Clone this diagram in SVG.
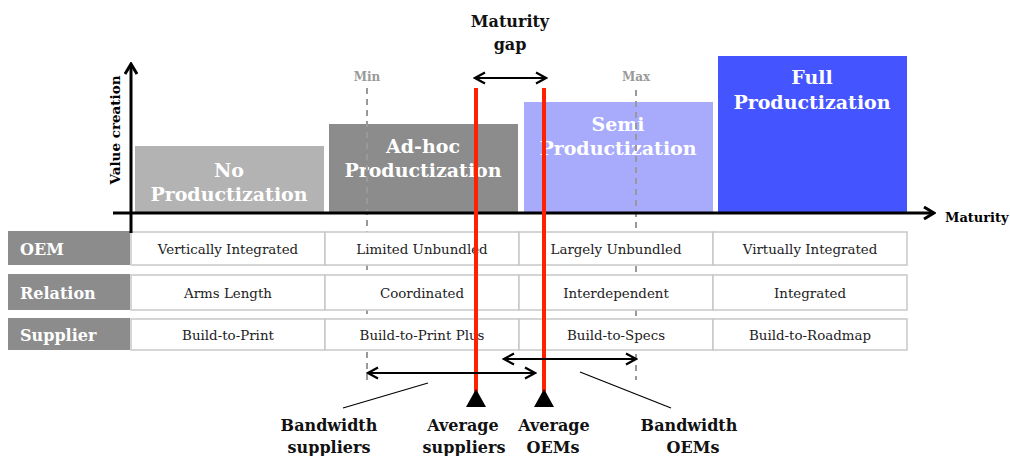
<svg xmlns="http://www.w3.org/2000/svg" width="1010" height="456" viewBox="0 0 1010 456">
  <defs>
    <marker id="chev" viewBox="0 0 14 14" refX="12" refY="7" markerWidth="14" markerHeight="14" markerUnits="userSpaceOnUse" orient="auto-start-reverse">
      <path d="M2,1.5 L12,7 L2,12.5" fill="none" stroke="#000" stroke-width="2.2"/>
    </marker>
    <marker id="chevBig" viewBox="0 0 14 14" refX="12" refY="7" markerWidth="14" markerHeight="14" markerUnits="userSpaceOnUse" orient="auto-start-reverse">
      <path d="M2,1 L12,7 L2,13" fill="none" stroke="#000" stroke-width="3"/>
    </marker>
  </defs>
  <style>
    .lbl { font-family: "DejaVu Serif", "Liberation Serif", serif; font-weight: bold; }
    .boxtxt { font-family: "DejaVu Serif", "Liberation Serif", serif; font-weight: bold; font-size: 19px; fill: #fff; text-anchor: middle; }
    .cell { fill: #fff; stroke: #c8c8c8; stroke-width: 1.5; }
    .celltxt { font-family: "DejaVu Serif", "Liberation Serif", serif; font-size: 13.4px; fill: #222; text-anchor: middle; }
    .hdr { fill: #8c8c8c; }
    .hdrtxt { font-family: "DejaVu Serif", "Liberation Serif", serif; font-weight: bold; font-size: 16px; fill: #fff; }
    .dash { stroke: #999; stroke-width: 2; stroke-dasharray: 6 5; fill: none; }
    .red { stroke: #ff2200; stroke-width: 4; }
    .arr { stroke: #000; stroke-width: 2; fill: none; }
    .bottxt { font-family: "DejaVu Serif", "Liberation Serif", serif; font-weight: bold; font-size: 16px; fill: #111; text-anchor: middle; }
  </style>

  <!-- maturity level boxes -->
  <g id="no-productization">
    <rect x="135" y="146" width="189" height="67" fill="#b3b3b3"/>
    <text class="boxtxt" x="229" y="177">No</text>
    <text class="boxtxt" x="229" y="201">Productization</text>
  </g>
  <g id="adhoc-productization">
    <rect x="329" y="124" width="189" height="89" fill="#8c8c8c"/>
    <text class="boxtxt" x="423" y="153">Ad-hoc</text>
    <text class="boxtxt" x="423" y="177">Productization</text>
  </g>
  <g id="semi-productization">
    <rect x="524" y="102" width="189" height="111" fill="#a8aafc"/>
    <text class="boxtxt" x="618" y="131">Semi</text>
    <text class="boxtxt" x="618" y="155">Productization</text>
  </g>
  <g id="full-productization">
    <rect x="718" y="56" width="189" height="157" fill="#4455ff"/>
    <text class="boxtxt" x="812" y="84">Full</text>
    <text class="boxtxt" x="812" y="109">Productization</text>
  </g>

  <!-- min / max markers -->
  <g id="min-marker">
    <text class="lbl" x="367" y="81" font-size="12" fill="#999" text-anchor="middle">Min</text>
    <line class="dash" x1="367" y1="88" x2="367" y2="380"/>
  </g>
  <g id="max-marker">
    <text class="lbl" x="636" y="81" font-size="12" fill="#999" text-anchor="middle">Max</text>
    <line class="dash" x1="636" y1="90" x2="636" y2="380"/>
  </g>

  <!-- characteristics table -->
  <g id="row-oem">
    <rect class="hdr" x="8" y="231" width="122" height="34"/>
    <text class="hdrtxt" x="20" y="255">OEM</text>
    <rect class="cell" x="131" y="232" width="194" height="33"/>
    <rect class="cell" x="325" y="232" width="194" height="33"/>
    <rect class="cell" x="519" y="232" width="194" height="33"/>
    <rect class="cell" x="713" y="232" width="194" height="33"/>
    <text class="celltxt" x="228" y="254">Vertically Integrated</text>
    <text class="celltxt" x="422" y="254">Limited Unbundled</text>
    <text class="celltxt" x="616" y="254">Largely Unbundled</text>
    <text class="celltxt" x="810" y="254">Virtually Integrated</text>
  </g>
  <g id="row-relation">
    <rect class="hdr" x="8" y="274" width="122" height="36"/>
    <text class="hdrtxt" x="20" y="299">Relation</text>
    <rect class="cell" x="131" y="275" width="194" height="35"/>
    <rect class="cell" x="325" y="275" width="194" height="35"/>
    <rect class="cell" x="519" y="275" width="194" height="35"/>
    <rect class="cell" x="713" y="275" width="194" height="35"/>
    <text class="celltxt" x="228" y="298">Arms Length</text>
    <text class="celltxt" x="422" y="298">Coordinated</text>
    <text class="celltxt" x="616" y="298">Interdependent</text>
    <text class="celltxt" x="810" y="298">Integrated</text>
  </g>
  <g id="row-supplier">
    <rect class="hdr" x="8" y="318" width="122" height="32"/>
    <text class="hdrtxt" x="20" y="341">Supplier</text>
    <rect class="cell" x="131" y="319" width="194" height="31"/>
    <rect class="cell" x="325" y="319" width="194" height="31"/>
    <rect class="cell" x="519" y="319" width="194" height="31"/>
    <rect class="cell" x="713" y="319" width="194" height="31"/>
    <text class="celltxt" x="228" y="340">Build-to-Print</text>
    <text class="celltxt" x="422" y="340">Build-to-Print Plus</text>
    <text class="celltxt" x="616" y="340">Build-to-Specs</text>
    <text class="celltxt" x="810" y="340">Build-to-Roadmap</text>
  </g>

  <!-- axes -->
  <g id="axes">
    <line x1="131" y1="233" x2="131" y2="64" stroke="#000" stroke-width="3" marker-end="url(#chevBig)"/>
    <line x1="113" y1="213" x2="934" y2="213" stroke="#000" stroke-width="3" marker-end="url(#chevBig)"/>
    <text class="lbl" x="0" y="0" font-size="13.5" fill="#000" text-anchor="middle" transform="translate(120 130) rotate(-90)">Value creation</text>
    <text class="lbl" x="945" y="222" font-size="13" fill="#000">Maturity</text>
  </g>

  <!-- averages -->
  <g id="average-suppliers">
    <line class="red" x1="476" y1="88" x2="476" y2="398"/>
    <path d="M476,389 L486,407 L466,407 Z" fill="#000"/>
    <text class="bottxt" x="463" y="431">Average</text>
    <text class="bottxt" x="464" y="453">suppliers</text>
  </g>
  <g id="average-oems">
    <line class="red" x1="544" y1="88" x2="544" y2="398"/>
    <path d="M544,389 L554,407 L534,407 Z" fill="#000"/>
    <text class="bottxt" x="554" y="431">Average</text>
    <text class="bottxt" x="553" y="453">OEMs</text>
  </g>

  <g id="maturity-gap">
    <text class="bottxt" x="510" y="27">Maturity</text>
    <text class="bottxt" x="510" y="50">gap</text>
  </g>
  <g id="bandwidth-suppliers">
    <text class="bottxt" x="329" y="431">Bandwidth</text>
    <text class="bottxt" x="329" y="453">suppliers</text>
  </g>
  <g id="bandwidth-oems">
    <text class="bottxt" x="689" y="431">Bandwidth</text>
    <text class="bottxt" x="693" y="453">OEMs</text>
  </g>

  <!-- connectors -->
  <g id="connectors">
    <line class="arr" x1="475" y1="78" x2="546" y2="78" marker-start="url(#chev)" marker-end="url(#chev)"/>
    <line class="arr" x1="368" y1="373" x2="535" y2="373" marker-start="url(#chev)" marker-end="url(#chev)"/>
    <line class="arr" x1="504" y1="359" x2="636" y2="359" marker-start="url(#chev)" marker-end="url(#chev)"/>
    <line x1="428" y1="383" x2="343" y2="408" stroke="#000" stroke-width="1.2"/>
    <line x1="580" y1="372" x2="671" y2="408" stroke="#000" stroke-width="1.2"/>
  </g>
</svg>
